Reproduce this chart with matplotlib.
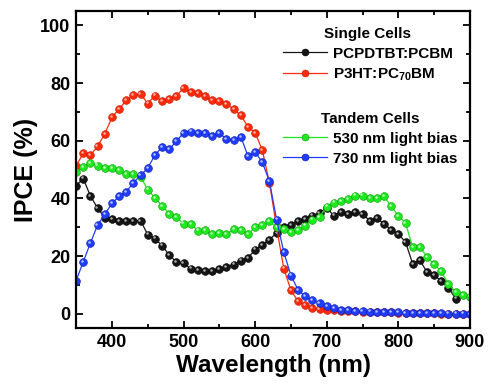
import numpy as np
import matplotlib
matplotlib.use('Agg')
import matplotlib.pyplot as plt
from matplotlib.transforms import offset_copy
from matplotlib.lines import Line2D

plt.rcParams['font.family'] = ['Liberation Sans', 'DejaVu Sans']
plt.rcParams['font.weight'] = 'bold'
plt.rcParams['mathtext.fontset'] = 'custom'
plt.rcParams['mathtext.rm'] = 'Liberation Sans:bold'
plt.rcParams['mathtext.bf'] = 'Liberation Sans:bold'

# wavelengths (nm)
wl = np.arange(350, 901, 10)
wl_black = np.arange(350, 881, 10)

# PCPDTBT:PCBM single cell
pcpdtbt = [44.5, 46.9, 40.8, 36.7, 33.3, 32.9, 32.1, 32.3, 32.3, 32.3,
           27.5, 26.1, 23.7, 20.4, 18.0, 17.5, 15.7, 15.1, 14.8, 14.8,
           15.5, 16.2, 17.1, 18.5, 19.4, 22.3, 24.0, 25.7, 28.1, 30.1,
           30.9, 32.1, 33.0, 34.1, 35.0, 36.6, 34.1, 35.4, 34.5, 35.2,
           34.7, 32.3, 33.1, 31.2, 29.2, 27.7, 24.9, 17.4, 18.6, 14.5,
           13.4, 11.4, 9.0, 5.3]

# P3HT:PC70BM single cell
p3ht = [51.2, 55.8, 55.0, 58.1, 62.4, 68.1, 71.0, 74.0, 75.9, 76.3,
        72.9, 75.7, 73.7, 74.5, 75.6, 78.3, 76.9, 76.6, 75.4, 74.0,
        73.9, 72.8, 71.0, 68.8, 64.9, 62.8, 56.8, 45.4, 30.0, 15.7,
        8.2, 4.3, 3.0, 2.1, 1.7, 1.5, 1.3, 1.1, 1.0, 0.9,
        0.8, 0.7, 0.6, 0.5, 0.5, 0.4, 0.4, 0.3, 0.3, 0.2,
        0.2, 0.1, 0.1, 0.1, 0.0, 0.0]

# tandem, 530 nm light bias
tandem_530 = [49.1, 51.0, 52.4, 51.4, 50.7, 50.7, 50.0, 48.4, 48.4, 47.5,
              43.1, 40.2, 37.5, 34.7, 33.5, 31.3, 31.2, 28.9, 29.0, 27.6,
              27.9, 27.6, 29.3, 29.0, 27.7, 30.0, 30.7, 32.1, 30.0, 29.4,
              28.5, 29.2, 30.6, 32.7, 33.7, 37.2, 38.6, 39.2, 39.8, 41.0,
              41.0, 40.2, 40.2, 40.7, 37.3, 34.0, 31.5, 23.1, 23.3, 19.7,
              17.2, 14.7, 10.3, 7.5, 6.5, 6.0]

# tandem, 730 nm light bias
tandem_730 = [11.5, 18.1, 24.6, 30.8, 34.5, 38.3, 40.8, 42.3, 45.5, 48.0,
              50.6, 55.0, 57.9, 57.0, 59.9, 62.7, 63.2, 62.6, 62.7, 61.6,
              62.6, 60.7, 60.3, 61.4, 54.7, 56.0, 52.6, 45.9, 32.7, 21.4,
              13.3, 8.3, 6.1, 4.8, 3.7, 2.6, 1.9, 1.4, 1.2, 1.0,
              0.9, 0.8, 0.7, 0.6, 0.5, 0.5, 0.4, 0.4, 0.3, 0.3,
              0.2, 0.2, 0.1, 0.1, 0.1, 0.0]

labels = ['PCPDTBT:PCBM', r'P3HT:PC$_{70}$BM', '530 nm light bias', '730 nm light bias']
colors = ['#151515', '#ff2a0a', '#1ee81e', '#1f3cff']
edges = ['#000000', '#c01800', '#0a9a0a', '#0a1aa8']
shine = ['#b0b0b0', '#ffb8a8', '#c8ffc8', '#b8c4ff']

fig = plt.figure(figsize=(4.88, 3.86), dpi=100)
ax = fig.add_axes([0.156, 0.1495, 0.807, 0.822])


def ball_plot(x, y, c, ec, hc):
    ax.plot(x, y, '-', color=c, lw=0.9, marker='o', markersize=5.6,
            markerfacecolor=c, markeredgecolor=ec, markeredgewidth=0.4)
    # small light spot so the markers look like shaded balls
    tr = offset_copy(ax.transData, fig=fig, x=-0.8, y=0.8, units='points')
    ax.plot(x, y, ls='none', marker='o', markersize=1.8, color=hc,
            markeredgewidth=0, transform=tr)
    return Line2D([], [], color=c, lw=0.9, marker='o', markersize=5.0,
                  markerfacecolor=c, markeredgecolor=ec, markeredgewidth=0.4)


series = [(wl_black, pcpdtbt), (wl, p3ht), (wl, tandem_530), (wl, tandem_730)]
handles = []
for (x, y), c, ec, hc in zip(series, colors, edges, shine):
    handles.append(ball_plot(x, y, c, ec, hc))

ax.set_xlim(350, 900)
ax.set_ylim(-5, 105)
ax.set_xticks([400, 500, 600, 700, 800, 900])
ax.set_xticks(np.arange(350, 901, 50), minor=True)
ax.set_yticks([0, 20, 40, 60, 80, 100])
ax.set_yticks(np.arange(0, 101, 10), minor=True)
ax.tick_params(which='both', direction='in', top=True, right=True, width=1.3)
ax.tick_params(which='major', length=5, labelsize=13, pad=4)
ax.tick_params(which='minor', length=3)
for lab in ax.get_xticklabels() + ax.get_yticklabels():
    lab.set_fontweight('bold')
for sp in ax.spines.values():
    sp.set_linewidth(1.6)

ax.set_xlabel('Wavelength (nm)', fontsize=17.5, fontweight='bold', labelpad=2)
ax.set_ylabel('IPCE (%)', fontsize=18, fontweight='bold', labelpad=2)

leg_kw = dict(frameon=False, loc='upper left', borderpad=0, borderaxespad=0,
              handlelength=2.9, handletextpad=0.35, labelspacing=0.38,
              prop={'size': 11, 'weight': 'bold'},
              title_fontproperties={'size': 11, 'weight': 'bold'},
              numpoints=1, bbox_transform=fig.transFigure)
leg1 = ax.legend(handles[:2], labels[:2], title='Single Cells',
                 bbox_to_anchor=(283 / 488, 1 - 27 / 386), **leg_kw)
ax.add_artist(leg1)
leg2 = ax.legend(handles[2:], labels[2:], title='Tandem Cells',
                 bbox_to_anchor=(283 / 488, 1 - 112 / 386), **leg_kw)

fig.savefig('out.png', dpi=100)
